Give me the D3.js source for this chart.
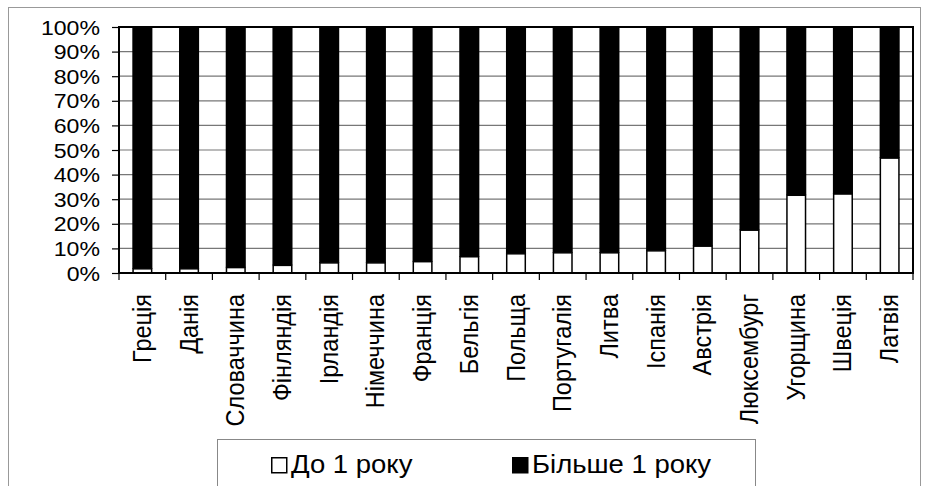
<!DOCTYPE html>
<html>
<head>
<meta charset="utf-8">
<script src="https://cdn.jsdelivr.net/npm/d3@7"></script>
<style>
  body { margin: 0; background: #fff; }
  svg { display: block; }
  text { font-family: "Liberation Sans", Arial, sans-serif; fill: #000; }
</style>
</head>
<body>
<script>
  const categories = ['Греція', 'Данія', 'Словаччина', 'Фінляндія', 'Ірландія', 'Німеччина',
    'Франція', 'Бельгія', 'Польща', 'Португалія', 'Литва', 'Іспанія', 'Австрія',
    'Люксембург', 'Угорщина', 'Швеція', 'Латвія'];

  // частка, %
  const under1 = [1.7, 1.7, 2.2, 3.1, 4.1, 4.1, 4.6, 6.6, 7.8, 8.2, 8.2, 9.0, 10.9, 17.4, 31.6, 32.1, 46.7];
  const over1 = [98.3, 98.3, 97.8, 96.9, 95.9, 95.9, 95.4, 93.4, 92.2, 91.8, 91.8, 91.0, 89.1, 82.6, 68.4, 67.9, 53.3];

  const yTicks = [0, 10, 20, 30, 40, 50, 60, 70, 80, 90, 100];
  const legendLabels = ['До 1 року', 'Більше 1 року'];

  const width = 925;
  const height = 486;
  const plot = { left: 119, right: 913, top: 27, bottom: 273 };
  const stretch = 1.1; // текст у референсі трохи розтягнутий по горизонталі

  const svg = d3.select('body')
          .append('svg')
          .attr('width', width)
          .attr('height', height);

  // рамка діаграми
  svg.append('rect')
          .attr('x', 8.5).attr('y', 7.5)
          .attr('width', 912).attr('height', 500)
          .attr('fill', 'none')
          .attr('stroke', '#999')
          .attr('stroke-width', 1);

  const x = d3.scaleBand()
          .domain(categories)
          .range([plot.left, plot.right])
          .paddingInner(0.57)
          .paddingOuter(0.285);

  const y = d3.scaleLinear()
          .domain([0, 100])
          .range([plot.bottom, plot.top]);

  // сітка
  svg.append('g')
          .selectAll('line')
          .data(yTicks)
          .enter()
          .append('line')
          .attr('x1', plot.left).attr('x2', plot.right)
          .attr('y1', d => y(d)).attr('y2', d => y(d))
          .attr('stroke', '#777')
          .attr('stroke-width', 1.2);

  // стовпці
  const stack = categories.map((c, i) => ({ c, a: under1[i], b: over1[i] }));

  svg.append('g')
          .selectAll('rect')
          .data(stack)
          .enter()
          .append('rect')
          .attr('x', d => x(d.c))
          .attr('width', x.bandwidth())
          .attr('y', d => y(d.a + d.b))
          .attr('height', d => y(d.a) - y(d.a + d.b))
          .attr('fill', '#000');

  svg.append('g')
          .selectAll('rect')
          .data(stack)
          .enter()
          .append('rect')
          .attr('x', d => x(d.c) + 0.75)
          .attr('width', x.bandwidth() - 1.5)
          .attr('y', d => y(d.a))
          .attr('height', d => y(0) - y(d.a))
          .attr('fill', '#fff')
          .attr('stroke', '#000')
          .attr('stroke-width', 1.5);

  // вісь Y
  const yAxis = svg.append('g')
          .attr('transform', `translate(${plot.left},0)`)
          .call(d3.axisLeft(y).tickValues(yTicks).tickFormat('').tickSize(7));
  yAxis.select('.domain').remove();
  yAxis.selectAll('.tick line').attr('stroke', '#000').attr('stroke-width', 1.2);

  svg.append('g')
          .selectAll('text')
          .data(yTicks)
          .enter()
          .append('text')
          .attr('transform', d => `translate(100,${y(d) + 7.5}) scale(${stretch},1)`)
          .attr('text-anchor', 'end')
          .style('font-size', '21px')
          .text(d => d + '%');

  // вісь X
  svg.append('g')
          .selectAll('line')
          .data(d3.range(categories.length + 1))
          .enter()
          .append('line')
          .attr('x1', i => plot.left + i * x.step())
          .attr('x2', i => plot.left + i * x.step())
          .attr('y1', plot.bottom)
          .attr('y2', plot.bottom + 7)
          .attr('stroke', '#000')
          .attr('stroke-width', 1.2);

  svg.append('g')
          .selectAll('text')
          .data(categories)
          .enter()
          .append('text')
          .attr('transform', d => `translate(${x(d) + x.bandwidth() / 2 + 8.5},${plot.bottom + 21}) rotate(-90) scale(1,${stretch})`)
          .attr('text-anchor', 'end')
          .style('font-size', '23.5px')
          .text(d => d);

  svg.append('rect')
          .attr('x', plot.left).attr('y', plot.top)
          .attr('width', plot.right - plot.left)
          .attr('height', plot.bottom - plot.top)
          .attr('fill', 'none')
          .attr('stroke', '#000')
          .attr('stroke-width', 2);

  // легенда
  const legend = svg.append('g');
  legend.append('rect')
          .attr('x', 217.5).attr('y', 439.5)
          .attr('width', 538).attr('height', 80)
          .attr('fill', '#fff')
          .attr('stroke', '#888')
          .attr('stroke-width', 1);

  const legendX = [271, 512];
  const legendFill = ['#fff', '#000'];
  legendLabels.forEach((label, i) => {
    legend.append('rect')
            .attr('x', legendX[i] + 0.75).attr('y', 457.75)
            .attr('width', 15).attr('height', 15)
            .attr('fill', legendFill[i])
            .attr('stroke', '#000')
            .attr('stroke-width', 1.5);
    legend.append('text')
            .attr('transform', `translate(${legendX[i] + 20},473) scale(${stretch},1)`)
            .style('font-size', '25px')
            .text(label);
  });
</script>
</body>
</html>
